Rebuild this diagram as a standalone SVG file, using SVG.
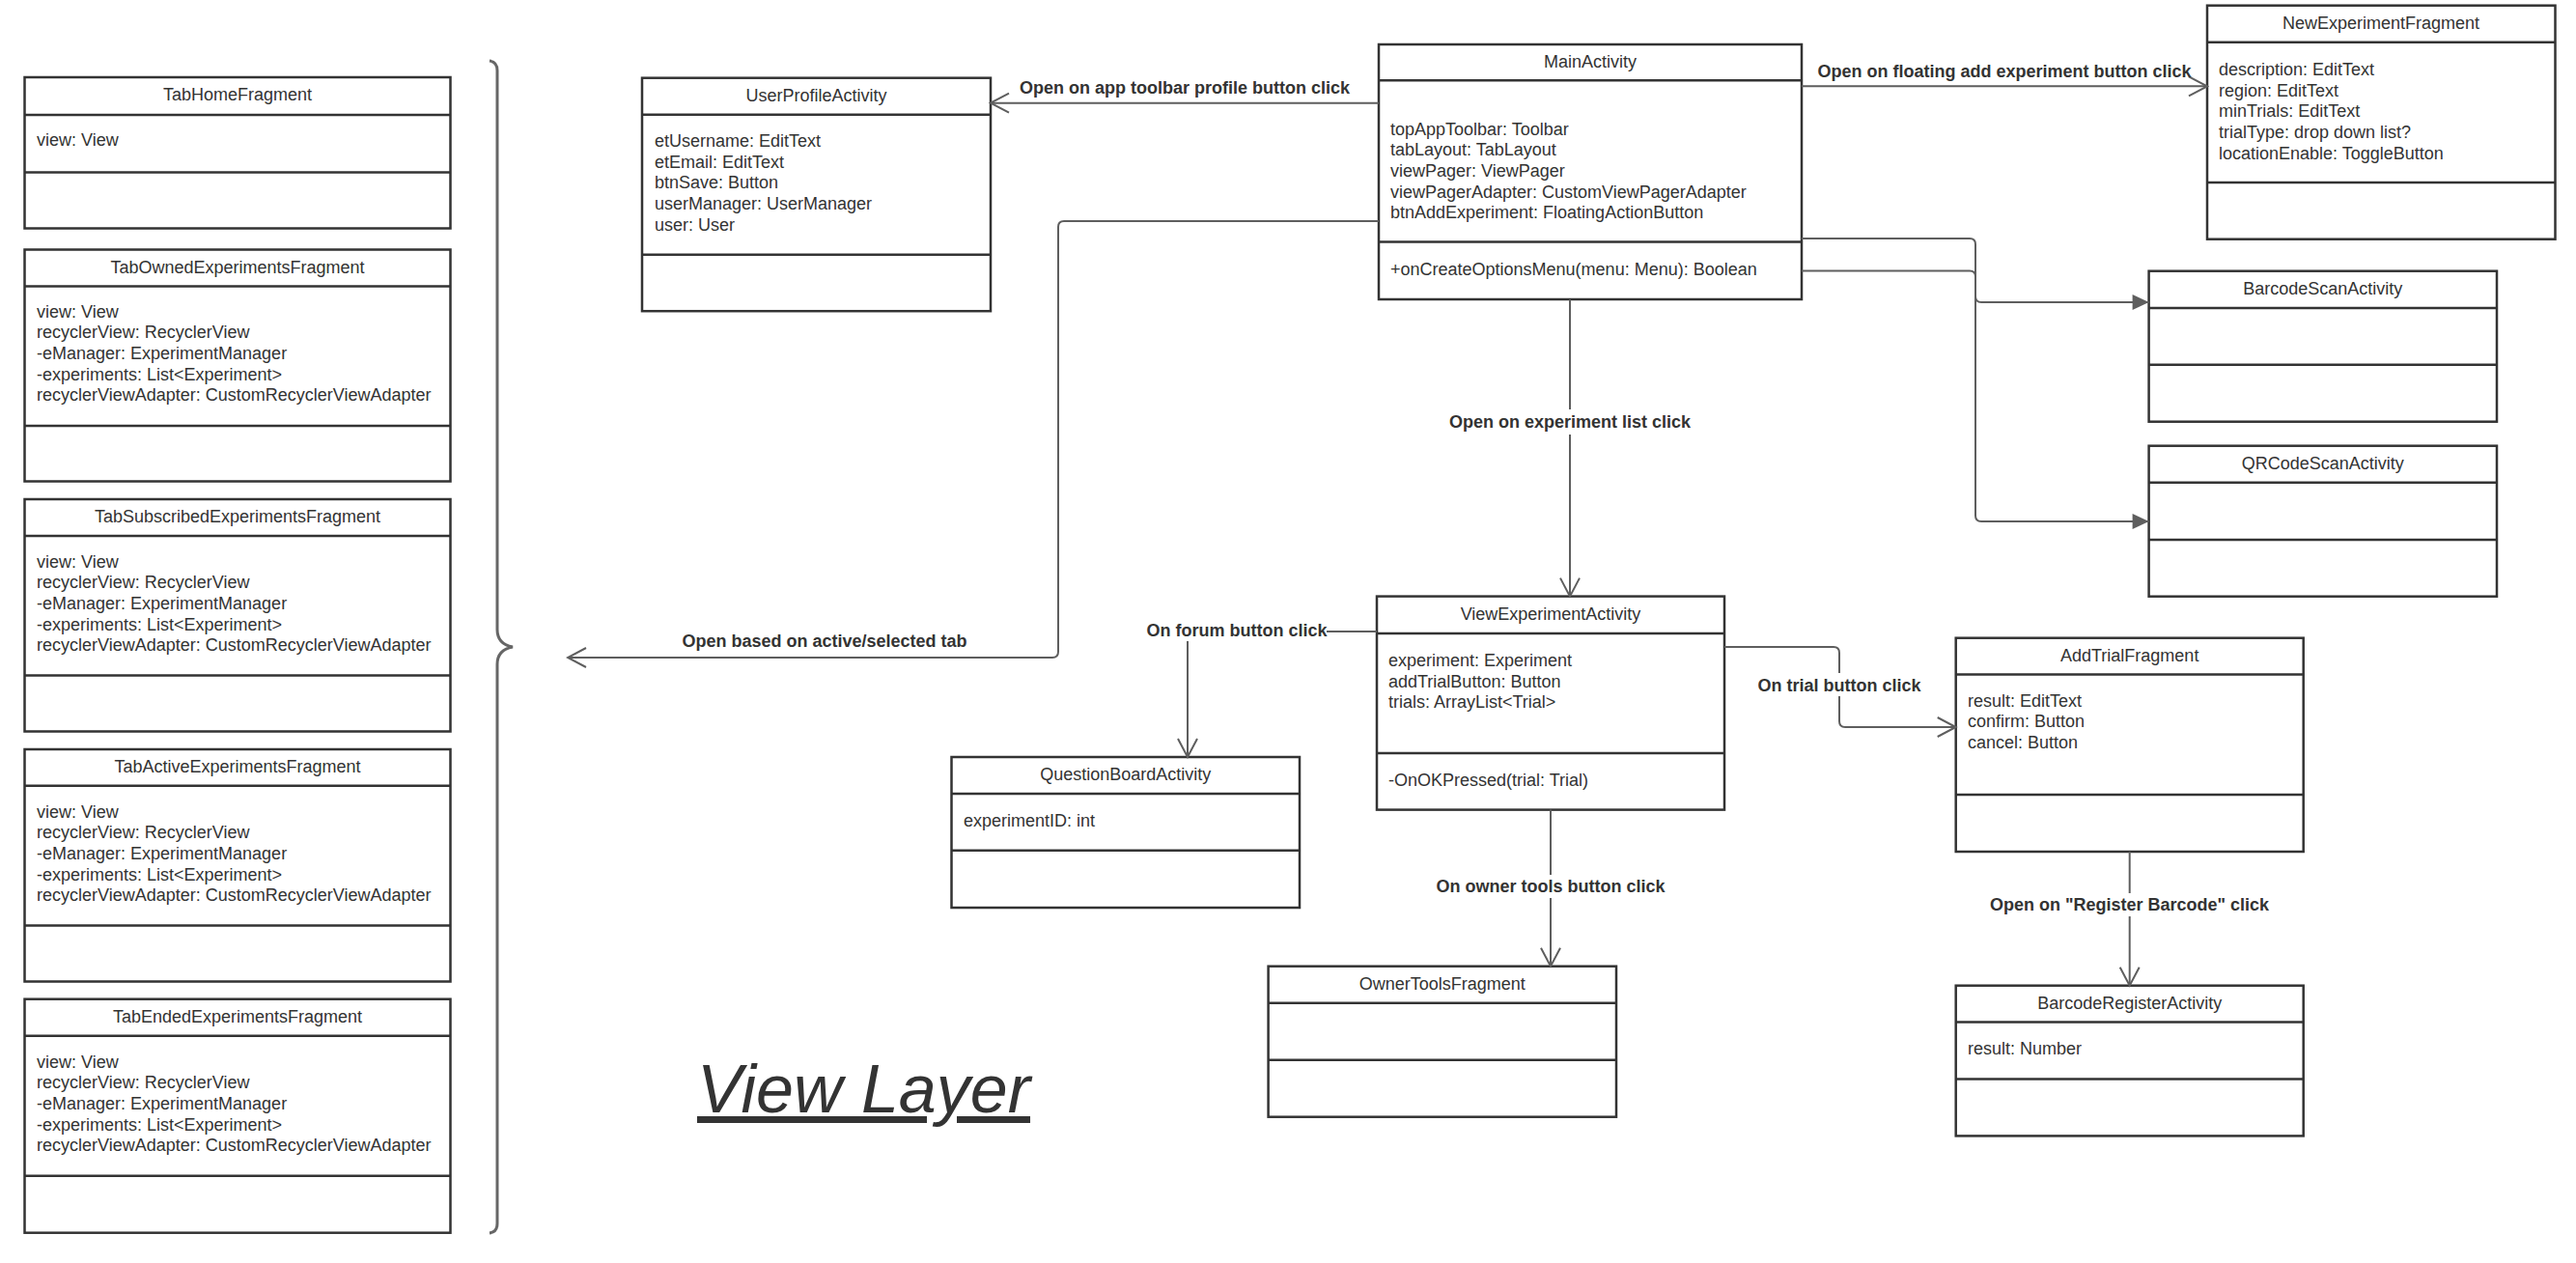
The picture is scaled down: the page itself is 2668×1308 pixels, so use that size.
<svg xmlns="http://www.w3.org/2000/svg" width="2668" height="1308" viewBox="0 0 2668 1308">
<style>
.box{fill:#fff;stroke:#333;stroke-width:2.5}
.sep{stroke:#333;stroke-width:2.5}
.t{font-family:"Liberation Sans",Arial,sans-serif;font-size:18px;fill:#333}
.ti{text-anchor:middle}
.lbl{font-family:"Liberation Sans",Arial,sans-serif;font-size:18px;font-weight:bold;fill:#333;text-anchor:middle}
.conn{fill:none;stroke:#5e5e5e;stroke-width:2}
.bg{fill:#fff}
.brace{fill:none;stroke:#666;stroke-width:3}
</style>
<defs>
<marker id="open" viewBox="-22 -12 24 24" refX="0" refY="0" markerWidth="24" markerHeight="24" orient="auto" markerUnits="userSpaceOnUse"><path d="M-19,-10 L0,0 L-19,10" fill="none" stroke="#5e5e5e" stroke-width="2"/></marker>
<marker id="solid" viewBox="-20 -10 22 20" refX="0" refY="0" markerWidth="22" markerHeight="20" orient="auto" markerUnits="userSpaceOnUse"><path d="M-17,-8 L0,0 L-17,8 Z" fill="#5e5e5e"/></marker>
</defs>
<rect width="2668" height="1308" fill="#fff"/>

<g id="TabHomeFragment">
<rect class="box" x="25.5" y="80" width="441" height="156.5"/>
<line class="sep" x1="25.5" y1="119" x2="466.5" y2="119"/>
<line class="sep" x1="25.5" y1="178.5" x2="466.5" y2="178.5"/>
<text class="t ti" x="246" y="104">TabHomeFragment</text>
<text class="t" x="38" y="151">view: View</text>
</g>

<g id="TabOwnedExperimentsFragment">
<rect class="box" x="25.5" y="258.5" width="441" height="240"/>
<line class="sep" x1="25.5" y1="296.5" x2="466.5" y2="296.5"/>
<line class="sep" x1="25.5" y1="441" x2="466.5" y2="441"/>
<text class="t ti" x="246" y="282.5">TabOwnedExperimentsFragment</text>
<text class="t" x="38" y="328.5">view: View</text>
<text class="t" x="38" y="350.2">recyclerView: RecyclerView</text>
<text class="t" x="38" y="371.8">-eManager: ExperimentManager</text>
<text class="t" x="38" y="393.5">-experiments: List&lt;Experiment&gt;</text>
<text class="t" x="38" y="415.2">recyclerViewAdapter: CustomRecyclerViewAdapter</text>
</g>

<g id="TabSubscribedExperimentsFragment">
<rect class="box" x="25.5" y="517" width="441" height="240.5"/>
<line class="sep" x1="25.5" y1="555" x2="466.5" y2="555"/>
<line class="sep" x1="25.5" y1="699.5" x2="466.5" y2="699.5"/>
<text class="t ti" x="246" y="541">TabSubscribedExperimentsFragment</text>
<text class="t" x="38" y="587.5">view: View</text>
<text class="t" x="38" y="609.2">recyclerView: RecyclerView</text>
<text class="t" x="38" y="630.8">-eManager: ExperimentManager</text>
<text class="t" x="38" y="652.5">-experiments: List&lt;Experiment&gt;</text>
<text class="t" x="38" y="674.2">recyclerViewAdapter: CustomRecyclerViewAdapter</text>
</g>

<g id="TabActiveExperimentsFragment">
<rect class="box" x="25.5" y="776" width="441" height="240.5"/>
<line class="sep" x1="25.5" y1="813.7" x2="466.5" y2="813.7"/>
<line class="sep" x1="25.5" y1="958.5" x2="466.5" y2="958.5"/>
<text class="t ti" x="246" y="800">TabActiveExperimentsFragment</text>
<text class="t" x="38" y="846.5">view: View</text>
<text class="t" x="38" y="868.2">recyclerView: RecyclerView</text>
<text class="t" x="38" y="889.8">-eManager: ExperimentManager</text>
<text class="t" x="38" y="911.5">-experiments: List&lt;Experiment&gt;</text>
<text class="t" x="38" y="933.2">recyclerViewAdapter: CustomRecyclerViewAdapter</text>
</g>

<g id="TabEndedExperimentsFragment">
<rect class="box" x="25.5" y="1034.7" width="441" height="242"/>
<line class="sep" x1="25.5" y1="1072.7" x2="466.5" y2="1072.7"/>
<line class="sep" x1="25.5" y1="1217.7" x2="466.5" y2="1217.7"/>
<text class="t ti" x="246" y="1058.7">TabEndedExperimentsFragment</text>
<text class="t" x="38" y="1105.5">view: View</text>
<text class="t" x="38" y="1127.2">recyclerView: RecyclerView</text>
<text class="t" x="38" y="1148.8">-eManager: ExperimentManager</text>
<text class="t" x="38" y="1170.5">-experiments: List&lt;Experiment&gt;</text>
<text class="t" x="38" y="1192.2">recyclerViewAdapter: CustomRecyclerViewAdapter</text>
</g>

<g id="TabBrace">
<path class="brace" d="M507,63 Q515,64 515,73 L515,652 Q515,667 531,670 Q515,673 515,688 L515,1267 Q515,1276 507,1277"/>
</g>

<g id="UserProfileActivity">
<rect class="box" x="665" y="80.7" width="361" height="241.5"/>
<line class="sep" x1="665" y1="118.7" x2="1026" y2="118.7"/>
<line class="sep" x1="665" y1="263.7" x2="1026" y2="263.7"/>
<text class="t ti" x="845.5" y="104.7">UserProfileActivity</text>
<text class="t" x="678" y="152">etUsername: EditText</text>
<text class="t" x="678" y="173.7">etEmail: EditText</text>
<text class="t" x="678" y="195.3">btnSave: Button</text>
<text class="t" x="678" y="217">userManager: UserManager</text>
<text class="t" x="678" y="238.7">user: User</text>
</g>

<g id="MainActivity">
<rect class="box" x="1428" y="46" width="438" height="264"/>
<line class="sep" x1="1428" y1="83.3" x2="1866" y2="83.3"/>
<line class="sep" x1="1428" y1="250.5" x2="1866" y2="250.5"/>
<text class="t ti" x="1647" y="70">MainActivity</text>
<text class="t" x="1440" y="139.5">topAppToolbar: Toolbar</text>
<text class="t" x="1440" y="161.2">tabLayout: TabLayout</text>
<text class="t" x="1440" y="182.8">viewPager: ViewPager</text>
<text class="t" x="1440" y="204.5">viewPagerAdapter: CustomViewPagerAdapter</text>
<text class="t" x="1440" y="226.2">btnAddExperiment: FloatingActionButton</text>
<text class="t" x="1440" y="285">+onCreateOptionsMenu(menu: Menu): Boolean</text>
</g>

<g id="NewExperimentFragment">
<rect class="box" x="2286" y="5.7" width="360.5" height="242"/>
<line class="sep" x1="2286" y1="43.7" x2="2646.5" y2="43.7"/>
<line class="sep" x1="2286" y1="189" x2="2646.5" y2="189"/>
<text class="t ti" x="2466" y="29.7">NewExperimentFragment</text>
<text class="t" x="2298" y="78">description: EditText</text>
<text class="t" x="2298" y="99.7">region: EditText</text>
<text class="t" x="2298" y="121.3">minTrials: EditText</text>
<text class="t" x="2298" y="143">trialType: drop down list?</text>
<text class="t" x="2298" y="164.7">locationEnable: ToggleButton</text>
</g>

<g id="BarcodeScanActivity">
<rect class="box" x="2225.6" y="280.7" width="360.4" height="156"/>
<line class="sep" x1="2225.6" y1="319" x2="2586" y2="319"/>
<line class="sep" x1="2225.6" y1="377.7" x2="2586" y2="377.7"/>
<text class="t ti" x="2405.8" y="305">BarcodeScanActivity</text>
</g>

<g id="QRCodeScanActivity">
<rect class="box" x="2225.6" y="461.7" width="360.4" height="156"/>
<line class="sep" x1="2225.6" y1="499.7" x2="2586" y2="499.7"/>
<line class="sep" x1="2225.6" y1="559" x2="2586" y2="559"/>
<text class="t ti" x="2405.8" y="485.7">QRCodeScanActivity</text>
</g>

<g id="ViewExperimentActivity">
<rect class="box" x="1426" y="617.6" width="360" height="221"/>
<line class="sep" x1="1426" y1="656" x2="1786" y2="656"/>
<line class="sep" x1="1426" y1="780" x2="1786" y2="780"/>
<text class="t ti" x="1606" y="641.6">ViewExperimentActivity</text>
<text class="t" x="1438" y="690">experiment: Experiment</text>
<text class="t" x="1438" y="711.7">addTrialButton: Button</text>
<text class="t" x="1438" y="733.3">trials: ArrayList&lt;Trial&gt;</text>
<text class="t" x="1438" y="814">-OnOKPressed(trial: Trial)</text>
</g>

<g id="QuestionBoardActivity">
<rect class="box" x="985.5" y="784" width="360.5" height="156"/>
<line class="sep" x1="985.5" y1="822" x2="1346" y2="822"/>
<line class="sep" x1="985.5" y1="880.7" x2="1346" y2="880.7"/>
<text class="t ti" x="1165.7" y="808">QuestionBoardActivity</text>
<text class="t" x="998" y="855.5">experimentID: int</text>
</g>

<g id="OwnerToolsFragment">
<rect class="box" x="1313.6" y="1000.7" width="360.4" height="156"/>
<line class="sep" x1="1313.6" y1="1038.7" x2="1674" y2="1038.7"/>
<line class="sep" x1="1313.6" y1="1097.7" x2="1674" y2="1097.7"/>
<text class="t ti" x="1493.8" y="1024.7">OwnerToolsFragment</text>
</g>

<g id="AddTrialFragment">
<rect class="box" x="2025.7" y="660.7" width="360" height="221.3"/>
<line class="sep" x1="2025.7" y1="698.6" x2="2385.7" y2="698.6"/>
<line class="sep" x1="2025.7" y1="823" x2="2385.7" y2="823"/>
<text class="t ti" x="2205.7" y="684.5">AddTrialFragment</text>
<text class="t" x="2038" y="731.5">result: EditText</text>
<text class="t" x="2038" y="753.2">confirm: Button</text>
<text class="t" x="2038" y="774.8">cancel: Button</text>
</g>

<g id="BarcodeRegisterActivity">
<rect class="box" x="2025.7" y="1020.7" width="360" height="155.7"/>
<line class="sep" x1="2025.7" y1="1058.6" x2="2385.7" y2="1058.6"/>
<line class="sep" x1="2025.7" y1="1117.5" x2="2385.7" y2="1117.5"/>
<text class="t ti" x="2205.7" y="1044.5">BarcodeRegisterActivity</text>
<text class="t" x="2038" y="1092">result: Number</text>
</g>

<g id="title">
<text x="722" y="1152" font-family="'Liberation Sans',Arial,sans-serif" font-size="70" font-style="italic" fill="#333" text-decoration="underline">View Layer</text>
</g>

<g id="connectors">
<path class="conn" d="M1428,106.7 L1026,106.7" marker-end="url(#open)"/>
<text class="lbl" x="1227" y="97">Open on app toolbar profile button click</text>

<path class="conn" d="M1428,229 L1102,229 Q1096,229 1096,235 L1096,675 Q1096,681 1090,681 L588,681" marker-end="url(#open)"/>
<text class="lbl" x="854" y="670">Open based on active/selected tab</text>

<path class="conn" d="M1866,89.3 L2286,89.3" marker-end="url(#open)"/>
<text class="lbl" x="2076" y="79.8">Open on floating add experiment button click</text>

<path class="conn" d="M1866,247 L2040,247 Q2046,247 2046,253 L2046,307 Q2046,313 2052,313 L2225.6,313" marker-end="url(#solid)"/>
<path class="conn" d="M1866,280.5 L2040,280.5 Q2046,280.5 2046,286.5"/>
<path class="conn" d="M2046,307 L2046,534 Q2046,540 2052,540 L2225.6,540" marker-end="url(#solid)"/>

<path class="conn" d="M1626,310 L1626,617.6" marker-end="url(#open)"/>
<rect class="bg" x="1500" y="424" width="252" height="26"/>
<text class="lbl" x="1626" y="443">Open on experiment list click</text>

<path class="conn" d="M1426,654 L1236,654 Q1230,654 1230,660 L1230,784" marker-end="url(#open)"/>
<rect class="bg" x="1187" y="640" width="187" height="24"/>
<text class="lbl" x="1281" y="658.5">On forum button click</text>

<path class="conn" d="M1786,670 L1899,670 Q1905,670 1905,676 L1905,747 Q1905,753 1911,753 L2025.7,753" marker-end="url(#open)"/>
<rect class="bg" x="1820" y="697" width="172" height="24"/>
<text class="lbl" x="1905" y="715.5">On trial button click</text>

<path class="conn" d="M1606,838.6 L1606,1000.7" marker-end="url(#open)"/>
<rect class="bg" x="1487" y="906" width="238" height="24"/>
<text class="lbl" x="1606" y="924">On owner tools button click</text>

<path class="conn" d="M2205.7,882 L2205.7,1020.7" marker-end="url(#open)"/>
<rect class="bg" x="2061" y="925" width="289" height="24"/>
<text class="lbl" x="2205.5" y="943">Open on "Register Barcode" click</text>
</g>
</svg>
